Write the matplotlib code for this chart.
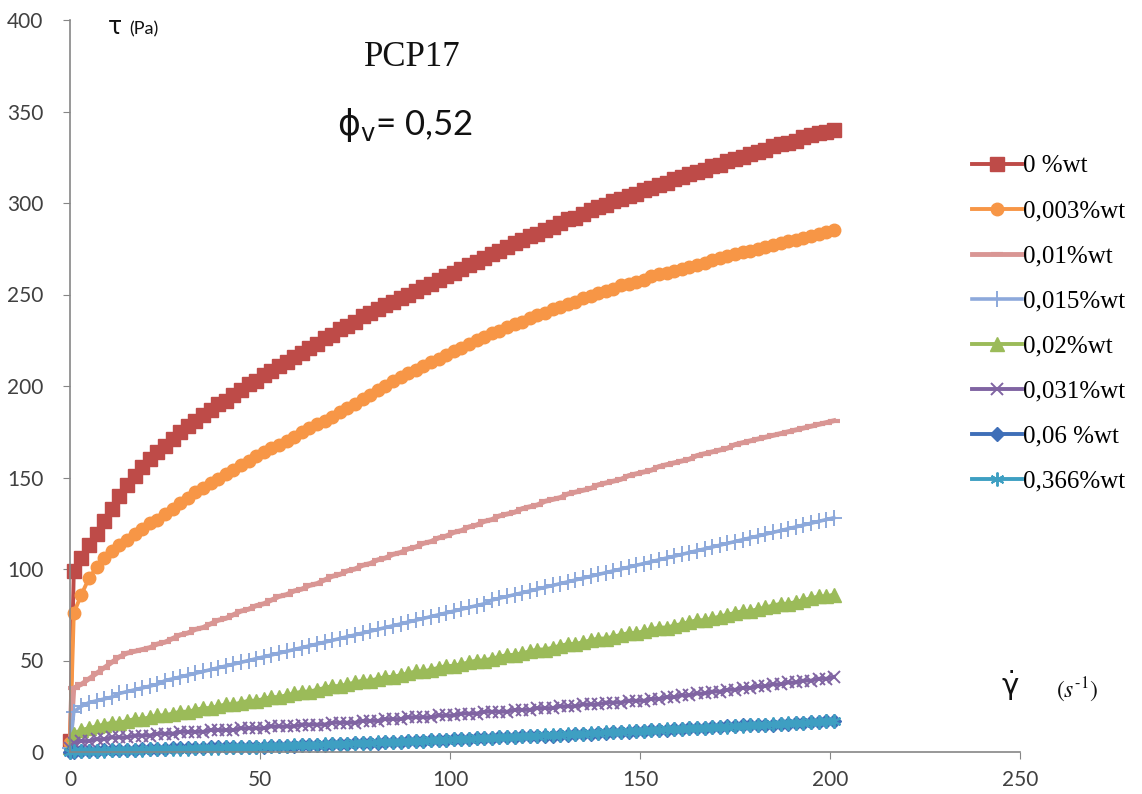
import matplotlib
matplotlib.use('Agg')
import matplotlib.pyplot as plt

# shear rate (s-1)
shear_rate = [0, 1, 3, 5, 7, 9, 11, 13, 15, 17, 19, 21, 23, 25, 27, 29, 31, 33, 35, 37,
              39, 41, 43, 45, 47, 49, 51, 53, 55, 57, 59, 61, 63, 65, 67, 69, 71, 73, 75, 77,
              79, 81, 83, 85, 87, 89, 91, 93, 95, 97, 99, 101, 103, 105, 107, 109, 111, 113, 115, 117,
              119, 121, 123, 125, 127, 129, 131, 133, 135, 137, 139, 141, 143, 145, 147, 149, 151, 153, 155, 157,
              159, 161, 163, 165, 167, 169, 171, 173, 175, 177, 179, 181, 183, 185, 187, 189, 191, 193, 195, 197,
              199, 201]

# shear stress tau (Pa) for each additive content
tau_0 = [6, 99, 106, 113, 119, 126, 133, 140, 146, 151, 156, 160, 164, 167, 171, 175, 178, 181, 184, 187,
         190, 192, 195, 198, 201, 203, 206, 208, 211, 213, 216, 218, 221, 223, 226, 228, 231, 233, 235, 238,
         240, 242, 244, 246, 248, 250, 252, 254, 256, 258, 260, 262, 264, 266, 268, 270, 272, 274, 276, 278,
         280, 282, 283, 285, 287, 289, 291, 292, 294, 296, 298, 299, 301, 302, 304, 305, 307, 308, 310, 311,
         313, 314, 316, 317, 318, 320, 321, 323, 324, 325, 327, 328, 329, 331, 332, 333, 334, 336, 337, 338,
         339, 340]
tau_0003 = [5, 76, 86, 95, 101, 106, 110, 113, 116, 119, 122, 125, 127, 130, 133, 136, 139, 142, 144, 147,
            149, 152, 154, 157, 159, 162, 164, 166, 168, 170, 172, 175, 177, 179, 181, 183, 186, 188, 190, 193,
            195, 198, 200, 203, 205, 207, 209, 211, 213, 215, 217, 219, 221, 223, 225, 227, 229, 230, 232, 234,
            235, 237, 239, 240, 242, 243, 245, 246, 248, 249, 251, 252, 253, 255, 256, 257, 258, 260, 261, 262,
            263, 264, 265, 266, 267, 269, 270, 271, 272, 273, 274, 275, 276, 277, 278, 279, 280, 281, 282, 283,
            284, 285]
tau_001 = [0, 35, 37, 40, 43, 46, 49, 52, 54, 55, 56, 57, 59, 60, 62, 64, 65, 67, 68, 70,
           72, 73, 75, 77, 78, 80, 81, 83, 85, 86, 88, 89, 91, 92, 94, 96, 97, 99, 100, 102,
           103, 105, 106, 108, 109, 111, 112, 114, 115, 117, 118, 120, 121, 123, 124, 126, 127, 129, 130, 131,
           133, 134, 135, 137, 138, 139, 141, 142, 143, 144, 146, 147, 148, 149, 151, 152, 153, 154, 156, 157,
           158, 159, 160, 162, 163, 164, 165, 166, 168, 169, 170, 171, 172, 173, 174, 175, 176, 177, 178, 179,
           180, 181]
tau_0015 = [2, 22, 25, 27, 28, 29, 30, 32, 33, 34, 35, 36, 37, 39, 40, 41, 42, 43, 44, 45,
            46, 47, 48, 49, 50, 51, 52, 53, 54, 55, 56, 57, 58, 59, 60, 61, 62, 63, 64, 65,
            66, 67, 68, 69, 70, 71, 72, 73, 74, 75, 76, 77, 78, 79, 80, 81, 83, 84, 85, 86,
            87, 88, 89, 90, 91, 92, 93, 94, 95, 96, 97, 98, 99, 100, 101, 102, 103, 104, 105, 106,
            107, 108, 109, 110, 111, 112, 113, 114, 115, 116, 117, 118, 119, 120, 121, 122, 123, 124, 125, 126,
            127, 128]
tau_002 = [3, 10, 12, 13, 14, 15, 16, 16, 17, 18, 18, 19, 20, 20, 21, 22, 22, 23, 24, 24,
           25, 26, 26, 27, 28, 28, 29, 30, 30, 31, 32, 33, 33, 34, 35, 36, 36, 37, 38, 39,
           39, 40, 41, 41, 42, 43, 44, 44, 45, 46, 47, 47, 48, 49, 50, 50, 51, 52, 53, 53,
           54, 55, 56, 56, 57, 58, 59, 59, 60, 61, 62, 62, 63, 64, 65, 65, 66, 67, 68, 68,
           69, 70, 71, 72, 72, 73, 74, 75, 76, 77, 77, 78, 79, 80, 81, 81, 82, 83, 84, 85,
           85, 86]
tau_0031 = [2, 5, 6, 6, 7, 7, 8, 8, 8, 9, 9, 9, 10, 10, 10, 11, 11, 11, 11, 12,
            12, 12, 12, 13, 13, 13, 13, 14, 14, 14, 14, 15, 15, 15, 15, 16, 16, 16, 16, 17,
            17, 17, 18, 18, 18, 19, 19, 19, 19, 20, 20, 20, 21, 21, 21, 22, 22, 22, 22, 23,
            23, 23, 24, 24, 24, 25, 25, 25, 26, 26, 26, 27, 27, 27, 28, 28, 28, 29, 29, 30,
            30, 31, 31, 32, 32, 33, 33, 34, 34, 35, 35, 36, 36, 37, 37, 38, 38, 39, 39, 40,
            40, 41]
tau_006 = [0, 0, 0.5, 0.5, 0.5, 1, 1, 1, 1, 1, 1.5, 1.5, 1.5, 1.5, 2, 2, 2, 2, 2, 2.5,
           2.5, 2.5, 2.5, 3, 3, 3, 3, 3.5, 3.5, 3.5, 3.5, 4, 4, 4, 4, 4.5, 4.5, 4.5, 5, 5,
           5, 5, 5.5, 5.5, 5.5, 6, 6, 6, 6.5, 6.5, 6.5, 7, 7, 7, 7.5, 7.5, 7.5, 8, 8, 8,
           8.5, 8.5, 9, 9, 9, 9.5, 9.5, 10, 10, 10, 10.5, 10.5, 11, 11, 11, 11.5, 11.5, 12, 12, 12,
           12.5, 12.5, 13, 13, 13, 13.5, 13.5, 14, 14, 14.5, 14.5, 15, 15, 15, 15.5, 15.5, 16, 16, 16.5, 16.5,
           17, 17]
tau_0366 = [0, 0.5, 0.5, 0.6, 0.7, 0.8, 0.9, 1.0, 1.1, 1.2, 1.3, 1.4, 1.5, 1.6, 1.7, 1.8, 1.9, 2.0, 2.2, 2.3,
            2.4, 2.5, 2.6, 2.7, 2.9, 3.0, 3.1, 3.2, 3.4, 3.5, 3.6, 3.8, 3.9, 4.0, 4.2, 4.3, 4.5, 4.6, 4.8, 4.9,
            5.1, 5.2, 5.4, 5.5, 5.7, 5.9, 6.0, 6.2, 6.4, 6.5, 6.7, 6.9, 7.0, 7.2, 7.4, 7.6, 7.8, 8.0, 8.1, 8.3,
            8.5, 8.7, 8.9, 9.1, 9.3, 9.5, 9.7, 9.9, 10.1, 10.3, 10.5, 10.7, 10.9, 11.1, 11.3, 11.5, 11.7, 11.9, 12.1, 12.3,
            12.5, 12.7, 12.9, 13.1, 13.3, 13.5, 13.7, 13.9, 14.1, 14.4, 14.6, 14.8, 15.0, 15.2, 15.4, 15.6, 15.9, 16.1, 16.3, 16.5,
            16.7, 17.0]

labels = ['0 %wt', '0,003%wt', '0,01%wt', '0,015%wt', '0,02%wt', '0,031%wt', '0,06 %wt', '0,366%wt']
series = [tau_0, tau_0003, tau_001, tau_0015, tau_002, tau_0031, tau_006, tau_0366]

colors  = ['#BE4B48', '#F79646', '#D99694', '#8DA9DB', '#9BBB59', '#8064A2', '#3F6FB8', '#3E9FC2']
markers = ['s', 'o', '_', '+', '^', 'x', 'D', (6, 2, 0)]
msizes  = [10, 9, 8, 12, 10, 9, 7.5, 10]
mews    = [1, 1, 3, 1.4, 1, 1.4, 1, 1.4]
lws     = [2.8, 2.8, 3.5, 2.6, 2.8, 2.8, 2.8, 2.8]

W, H = 1142, 794
fig = plt.figure(figsize=(W / 100, H / 100), dpi=100)
fig.patch.set_facecolor('white')
ax = fig.add_axes([70 / W, 1 - 752 / H, 950 / W, 732 / H])

for y, lab, c, m, ms, mew, lw in zip(series, labels, colors, markers, msizes, mews, lws):
    ax.plot(shear_rate, y, color=c, lw=lw, marker=m, markersize=ms,
            markeredgecolor=c, markerfacecolor=c, markeredgewidth=mew,
            label=lab, clip_on=False)

ax.set_xlim(0, 250)
ax.set_ylim(0, 400)
ax.set_xticks(range(0, 251, 50))
ax.set_yticks(range(0, 401, 50))
for s in ['top', 'right']:
    ax.spines[s].set_visible(False)
for s in ['left', 'bottom']:
    ax.spines[s].set_color('#868686')
    ax.spines[s].set_linewidth(1.2)
ax.tick_params(axis='both', direction='out', length=5, color='#868686',
               labelcolor='#404040', labelsize=15)
ax.tick_params(axis='y', pad=14)
ax.tick_params(axis='x', pad=8)
for t in ax.get_xticklabels() + ax.get_yticklabels():
    t.set_fontfamily('Lato')

# annotations
fig.text(412 / W, 1 - 58 / H, 'PCP17', ha='center', va='center',
         fontsize=25, family='Liberation Serif', color='#111111')
fig.text(405 / W, 1 - 125 / H, r'$\mathrm{\phi}_{\mathrm{v}}$' + '= 0,52', ha='center', va='center',
         fontsize=25, family='Lato', color='#111111', math_fontfamily='dejavusans')
fig.text(108 / W, 1 - 34 / H, 'τ', ha='left', va='baseline', fontsize=17,
         family='DejaVu Sans', color='#111111')
fig.text(129 / W, 1 - 34 / H, '(Pa)', ha='left', va='baseline', fontsize=13,
         family='Lato', color='#111111')
fig.text(1010 / W, 1 - 686 / H, r'$\dot{\mathrm{\gamma}}$', ha='center', va='center', fontsize=21,
         color='#111111', math_fontfamily='dejavusans')
fig.text(1077 / W, 1 - 690 / H, r'$(s^{\text{-1}})$', ha='center', va='center', fontsize=17,
         color='#111111', math_fontfamily='stix')

leg = fig.legend(loc='upper left', bbox_to_anchor=(962 / W, 1 - 145 / H),
                 frameon=False, numpoints=1, handlelength=2.0, handletextpad=0.05,
                 labelspacing=0.9, borderaxespad=0,
                 prop={'family': 'Liberation Serif', 'size': 18})

fig.savefig('out.png', dpi=100)
